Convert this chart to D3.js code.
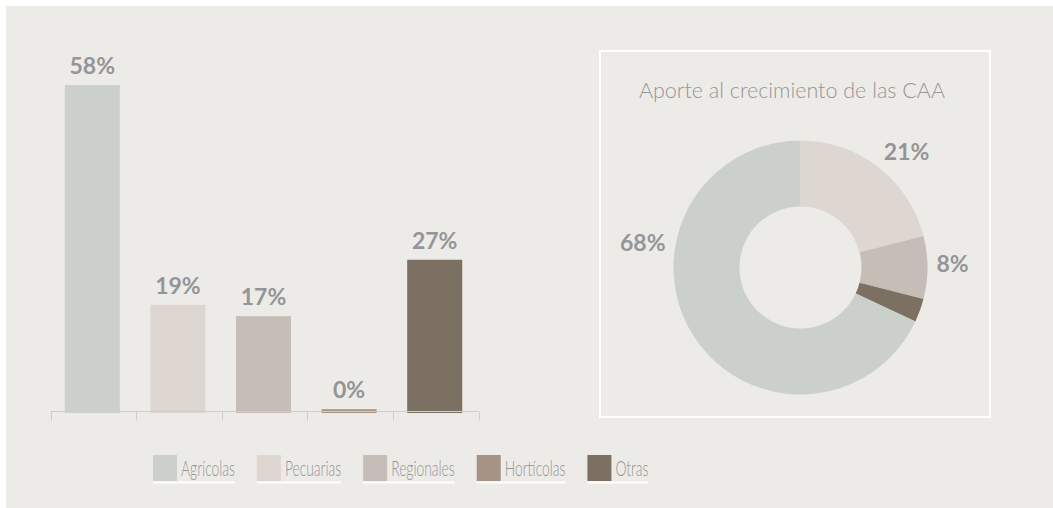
<!DOCTYPE html>
<html><head><meta charset="utf-8">
<script src="https://cdn.jsdelivr.net/npm/d3@7"></script>
<style>body{margin:0;background:#fff}svg{display:block}</style>
</head><body>
<svg id="chart" width="1053" height="508"></svg>
<script>
// ---- data ----
const categories = ["Agrícolas", "Pecuarias", "Regionales", "Hortícolas", "Otras"];
const barValues = [58, 19, 17, 0.49, 27];          // % por categoría (barras)
const pieValues = [68, 21, 8, 0, 3];               // aporte al crecimiento (%)
const pieOrder = ["Pecuarias", "Regionales", "Hortícolas", "Otras", "Agrícolas"];
const pieTitle = "Aporte al crecimiento de las CAA";
const colors = ["#cbd0ca", "#ded6d1", "#c6bdb7", "#a59483", "#7c7062"];

const svg = d3.select("#chart");
const labelColor = "#939598";
const font = "Lato, 'Open Sans', sans-serif";

svg.append("rect").attr("x", 6).attr("y", 6).attr("width", 1047).attr("height", 502).attr("fill", "#edebe7");

const color = d3.scaleOrdinal().domain(categories).range(colors);

// ---- bars ----
const x = d3.scaleBand().domain(categories).range([49.5, 477.5]).paddingInner(0.357).paddingOuter(0.1785);
const y = d3.scaleLinear().domain([0, 58]).range([412, 85]);
const barData = categories.map((c, i) => ({c, v: barValues[i]}));

const g = svg.append("g");
g.selectAll("rect.bar").data(barData).join("rect")
  .attr("x", d => x(d.c)).attr("width", x.bandwidth())
  .attr("y", d => y(d.v)).attr("height", d => y(0) - y(d.v) + 1)
  .attr("fill", d => color(d.c));

// axis line + tick marks between categories
const axisY = 411.5;
const x0 = x.range()[0] + 1;
g.append("line").attr("x1", x0).attr("x2", x0 + categories.length * x.step()).attr("y1", axisY).attr("y2", axisY)
  .attr("stroke", "#cfcecb").attr("stroke-width", 1);
g.selectAll("line.tick").data(d3.range(categories.length + 1)).join("line")
  .attr("x1", k => Math.round(x0 + k * x.step()) + 0.5)
  .attr("x2", k => Math.round(x0 + k * x.step()) + 0.5)
  .attr("y1", axisY).attr("y2", axisY + 9)
  .attr("stroke", "#cfcecb").attr("stroke-width", 1);

g.selectAll("text.val").data(barData).join("text")
  .attr("x", d => x(d.c) + x.bandwidth() / 2).attr("y", d => y(d.v) - 11)
  .attr("text-anchor", "middle").attr("font-family", font).attr("font-weight", 700)
  .attr("font-size", 23).attr("fill", labelColor)
  .text(d => Math.round(d.v) + "%");

// ---- donut ----
svg.append("rect").attr("x", 600).attr("y", 51).attr("width", 390).attr("height", 366)
  .attr("fill", "none").attr("stroke", "#ffffff").attr("stroke-width", 2);
svg.append("text").attr("x", 792).attr("y", 98).attr("text-anchor", "middle")
  .attr("font-family", font).attr("font-weight", 300).attr("font-size", 21.5).attr("fill", labelColor)
  .text(pieTitle);

const cx = 800.5, cy = 267.5, rOut = 127, rIn = 61;
const pieData = pieOrder.map(c => ({c, v: pieValues[categories.indexOf(c)]}));
const pie = d3.pie().sort(null).value(d => d.v);
const arc = d3.arc().innerRadius(rIn).outerRadius(rOut);
const arcs = pie(pieData);
const pg = svg.append("g").attr("transform", `translate(${cx},${cy})`);
pg.selectAll("path").data(arcs).join("path").attr("d", arc).attr("fill", d => color(d.data.c));

const bigLabelAngle = 277 * Math.PI / 180; // label of the large slice moved to the left
const maxV = d3.max(pieData, d => d.v);
pg.selectAll("text").data(arcs.filter(d => d.data.v >= 5)).join("text")
  .each(function(d) {
    const a = d.data.v === maxV ? bigLabelAngle : (d.startAngle + d.endAngle) / 2;
    const s = Math.sin(a), c = Math.cos(a), r = rOut + 9;
    const ax = r * s, ay = -r * c;
    const t = d3.select(this);
    t.attr("x", ax).attr("text-anchor", s > 0.1 ? "start" : s < -0.1 ? "end" : "middle");
    t.attr("y", c > 0.1 ? ay : c < -0.1 ? ay + 16 : ay + 4);
  })
  .attr("font-family", font).attr("font-weight", 700).attr("font-size", 23).attr("fill", labelColor)
  .text(d => d.data.v + "%");

// ---- legend ----
const lg = svg.append("g");
let lx = 153;
const squeeze = 0.66;
categories.forEach((c, i) => {
  const item = lg.append("g");
  item.append("rect").attr("x", lx).attr("y", 455).attr("width", 24).attr("height", 26).attr("fill", color(c));
  const t = item.append("text").attr("transform", `translate(${lx + 28},476) scale(${squeeze},1)`)
    .attr("font-family", font).attr("font-weight", 300).attr("font-size", 21).attr("fill", labelColor).text(c);
  const w = t.node().getComputedTextLength() * squeeze;
  item.insert("rect", "rect").attr("x", lx).attr("y", 481.5).attr("width", 28 + w).attr("height", 2).attr("fill", "#ffffff");
  lx += 28 + w + 22;
});
</script>
</body></html>
